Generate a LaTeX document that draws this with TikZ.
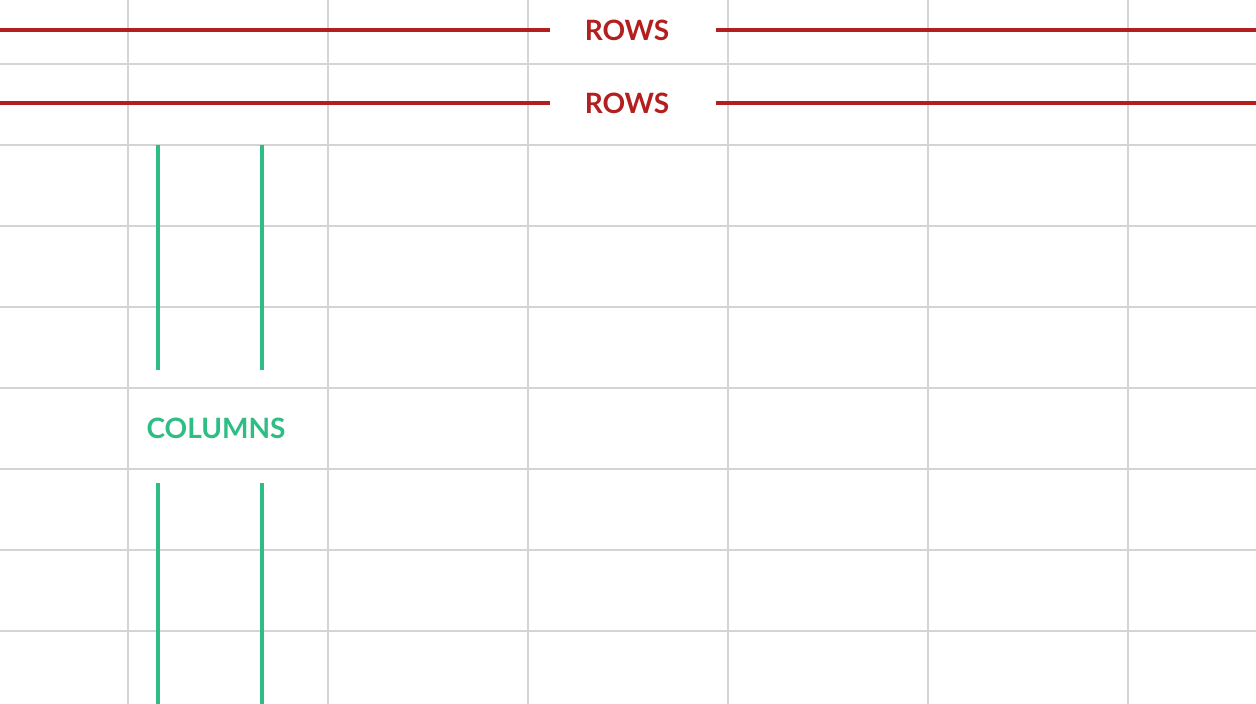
\documentclass[tikz,border=0pt]{standalone}
\usepackage{fontspec}
\setmainfont{Lato}
\definecolor{rowred}{HTML}{B31F1F}
\definecolor{colgreen}{HTML}{2EBE85}
\definecolor{gridgray}{HTML}{D4D4D4}
\tikzset{
  gridline/.style={draw=gridgray,line width=1.5pt},
  rowline/.style={draw=rowred,line width=4.5pt},
  colline/.style={draw=colgreen,line width=4.5pt},
  rowlabel/.style={text=rowred,font=\bfseries\fontsize{28}{30}\selectfont},
  collabel/.style={text=colgreen,font=\bfseries\fontsize{28}{30}\selectfont}
}
\begin{document}
\begin{tikzpicture}[x=1pt,y=-1pt]
\useasboundingbox[fill=white] (0,0) rectangle (1256,704);
\foreach \x in {128,328,528,728,928,1128} \draw[gridline] (\x,0) -- (\x,704);
\foreach \y in {64,145,226,307,388,469,550,631} \draw[gridline] (0,\y) -- (1256,\y);
\node[rowlabel] (r1) at (627,30) {ROWS};
\node[rowlabel] (r2) at (627,103) {ROWS};
\coordinate (r1a) at (0,30); \coordinate (r1b) at (550,30);
\coordinate (r1c) at (716,30); \coordinate (r1d) at (1256,30);
\coordinate (r2a) at (0,103); \coordinate (r2b) at (550,103);
\coordinate (r2c) at (716,103); \coordinate (r2d) at (1256,103);
\draw[rowline] (r1a) -- (r1b); \draw[rowline] (r1c) -- (r1d);
\draw[rowline] (r2a) -- (r2b); \draw[rowline] (r2c) -- (r2d);
\node[collabel] (c) at (216,428) {COLUMNS};
\coordinate (g1) at (158,145); \coordinate (g2) at (158,370);
\coordinate (g3) at (262,145); \coordinate (g4) at (262,370);
\coordinate (g5) at (158,483); \coordinate (g6) at (158,704);
\coordinate (g7) at (262,483); \coordinate (g8) at (262,704);
\draw[colline] (g1) -- (g2); \draw[colline] (g3) -- (g4);
\draw[colline] (g5) -- (g6); \draw[colline] (g7) -- (g8);
\end{tikzpicture}
\end{document}
